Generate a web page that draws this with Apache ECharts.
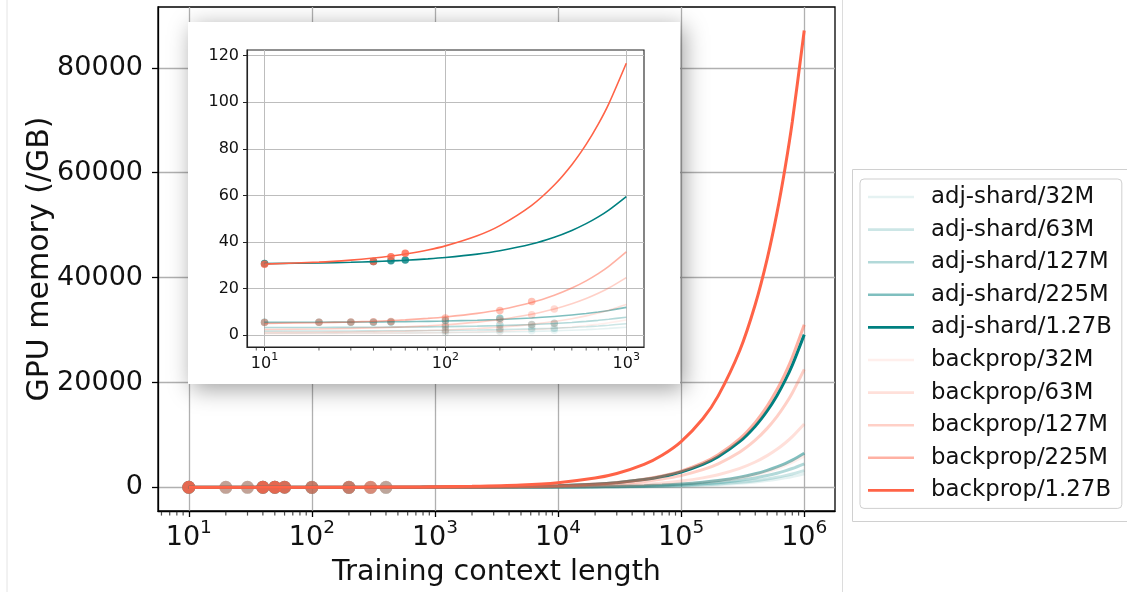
<!DOCTYPE html>
<html><head><meta charset="utf-8">
<script src="https://cdn.jsdelivr.net/npm/echarts@6/dist/echarts.min.js"></script>
<style>html,body{margin:0;padding:0;background:#fff}#c{width:1127px;height:592px}</style>
</head><body><div id="c"></div>
<script>
const FONT = 'DejaVu Sans';
const seriesNames = ['adj-shard/32M','adj-shard/63M','adj-shard/127M','adj-shard/225M','adj-shard/1.27B',
                     'backprop/32M','backprop/63M','backprop/127M','backprop/225M','backprop/1.27B'];
const seriesAlpha = [0.1,0.2,0.3,0.5,1, 0.1,0.2,0.3,0.5,1];
const contextLengths = [10,20,30,40,50,60,80,100,150,200,300,400,500,600,700,800,1000,2000,5000,10000,20000,30000,50000,70000,100000,150000,200000,300000,400000,500000,600000,700000,800000,1000000];

const adjShard32M  = [0.83,0.85,0.88,0.90,0.93,0.96,1.01,1.06,1.19,1.32,1.58,1.84,2.10,2.36,2.62,2.88,3.40,6.0,13.8,26.8,52.8,78.8,130.8,182.8,260.8,390.8,520.8,780.8,1040.8,1300.8,1560.8,1820.8,2080.8,2600.8];
const adjShard63M  = [1.73,1.76,1.80,1.83,1.86,1.89,1.96,2.02,2.18,2.34,2.66,2.98,3.30,3.62,3.94,4.26,4.90,8.1,17.7,33.7,65.7,97.7,162,226,322,482,642,962,1282,1602,1922,2242,2562,3202];
const adjShard127M = [3.25,3.29,3.34,3.38,3.43,3.47,3.56,3.65,3.88,4.10,4.55,5.00,5.45,5.90,6.35,6.80,7.70,12.2,25.7,48.2,93.2,138,228,318,453,678,903,1353,1803,2253,2703,3153,3603,4503];
const adjShard225M = [5.47,5.53,5.60,5.66,5.73,5.79,5.92,6.05,6.38,6.70,7.35,8.00,8.65,9.30,9.95,10.6,11.9,18.4,37.9,70.4,135,200,330,460,655,980,1305,1955,2605,3255,3905,4555,5205,6505];
const adjShard127B = [30.69,30.98,31.27,31.56,31.86,32.15,32.73,33.31,34.77,36.22,39.13,42.04,44.95,47.86,50.77,53.68,59.5,88.6,175.9,321.4,612,903,1485,2067,2940,4395,5850,8760,11670,14580,17490,20400,23310,29130];
const backprop32M  = [0.56,0.62,0.68,0.74,0.80,0.86,0.98,1.10,1.40,1.70,2.30,2.90,3.50,4.10,4.70,5.30,6.5,12.5,30.5,60.5,120.5,180.5,300.5,420.5,600.5,900.5,1200,1800,2400,3000,3600,4200,4800,6000];
const backprop63M  = [1.12,1.24,1.36,1.48,1.61,1.73,1.97,2.21,2.82,3.42,4.63,5.84,7.05,8.26,9.47,10.68,13.1,25.2,61.5,122,243,364,606,848,1211,1816,2421,3631,4841,6051,7261,8471,9681,12101];
const backprop127M = [2.43,2.65,2.88,3.10,3.33,3.55,4.00,4.45,5.58,6.70,8.95,11.2,13.45,15.7,17.95,20.2,24.7,47.2,114.7,227,452,677,1127,1577,2252,3377,4502,6752,9002,11252,13502,15752,18002,22502];
const backprop225M = [5.01,5.32,5.63,5.94,6.25,6.56,7.18,7.80,9.35,10.9,14.0,17.1,20.2,23.3,26.4,29.5,35.7,66.7,159.7,315,625,935,1555,2175,3105,4655,6205,9305,12405,15505,18605,21705,24805,31005];
const backprop127B = [30.47,31.34,32.21,33.08,33.96,34.83,36.57,38.31,42.67,47.02,55.73,64.44,73.15,81.86,90.57,99.28,116.7,203.8,465.1,900.6,1772,2643,4385,6127,8740,13095,17450,26160,34870,43580,52290,61000,69710,87130];

// measured points [context length, GB]
const adjShard32MPts  = [[100,1.1],[200,1.6],[300,1.9],[400,2.1]];
const adjShard63MPts  = [[100,2.0],[200,2.5],[300,2.9],[400,3.0]];
const adjShard127MPts = [[100,3.7],[200,4.3],[300,4.6],[400,5.1]];
const adjShard225MPts = [[10,5.5],[20,5.5],[30,5.5],[40,5.5],[50,5.6],[100,6.3],[200,7.2]];
const adjShard127BPts = [[10,30.7],[40,31.6],[50,31.9],[60,32.2]];
const backprop32MPts  = [[100,1.4],[200,1.8]];
const backprop63MPts  = [[100,2.3],[200,3.0],[300,4.4],[400,5.0]];
const backprop127MPts = [[100,4.4],[200,6.5],[300,8.7],[400,11.2]];
const backprop225MPts = [[10,5.4],[20,5.5],[30,5.6],[40,5.7],[50,5.8],[100,7.3],[200,10.6],[300,14.4]];
const backprop127BPts = [[10,30.4],[40,31.6],[50,33.6],[60,35.1]];

const mainYTicks = [0,20000,40000,60000,80000];
const insetYTicks = [0,20,40,60,80,100,120];
const mainXTicks = [10,100,1000,10000,100000,1000000];
const insetXTicks = [10,100,1000];

const curves = [adjShard32M,adjShard63M,adjShard127M,adjShard225M,adjShard127B,backprop32M,backprop63M,backprop127M,backprop225M,backprop127B];
const points = [adjShard32MPts,adjShard63MPts,adjShard127MPts,adjShard225MPts,adjShard127BPts,backprop32MPts,backprop63MPts,backprop127MPts,backprop225MPts,backprop127BPts];

function colorOf(i){ const a = seriesAlpha[i]; return i < 5 ? 'rgba(0,128,128,'+a+')' : 'rgba(255,99,71,'+a+')'; }

const MAIN_X = [Math.pow(10,0.75), Math.pow(10,6.25)];
const INSET_X = [8.0, 1253];
function minorList(lo, hi){ const out=[]; for(let e=0;e<=6;e++){ for(let k=2;k<=9;k++){ const v=k*Math.pow(10,e); if(v>lo && v<hi) out.push(v);} } return out; }

const series = [];
curves.forEach((c,i)=>{
  series.push({type:'line', name:seriesNames[i], xAxisIndex:0, yAxisIndex:0, z:4,
    data: contextLengths.map((x,j)=>[x,c[j]]), showSymbol:false, smooth:0.3,
    color: colorOf(i), lineStyle:{width:3, color: colorOf(i)}, silent:true});
});
curves.forEach((c,i)=>{
  const d = contextLengths.map((x,j)=>[x,c[j]]).filter(p=>p[0]<=1000);
  series.push({type:'line', name:seriesNames[i], xAxisIndex:1, yAxisIndex:1, z:14,
    data: d, showSymbol:false, smooth:0.3,
    color: colorOf(i), lineStyle:{width:1.6, color: colorOf(i)}, silent:true});
});
points.forEach((p,i)=>{
  series.push({type:'scatter', name:seriesNames[i], xAxisIndex:0, yAxisIndex:0, z:3, data:p,
    symbolSize:13, itemStyle:{color: colorOf(i)}, silent:true});
});
points.forEach((p,i)=>{
  series.push({type:'scatter', name:seriesNames[i], xAxisIndex:1, yAxisIndex:1, z:13, data:p,
    symbolSize:7.5, itemStyle:{color: colorOf(i)}, silent:true});
});
series.push({type:'scatter', name:'_minorMain', xAxisIndex:0, yAxisIndex:0, z:5, clip:false, silent:true,
  data: minorList(MAIN_X[0], MAIN_X[1]).map(v=>[v,-4500]), symbol:'rect', symbolSize:[1.2,4], symbolOffset:[0,2.6],
  itemStyle:{color:'#222'}});
series.push({type:'scatter', name:'_minorInset', xAxisIndex:1, yAxisIndex:1, z:15, clip:false, silent:true,
  data: minorList(INSET_X[0], INSET_X[1]).map(v=>[v,-5.1]), symbol:'rect', symbolSize:[0.9,3], symbolOffset:[0,2],
  itemStyle:{color:'#222'}});

function powLabel(v){ const e = Math.round(Math.log10(v)); return '{b|10}{s|' + e + '}'; }
function plainNum(v){ return String(v); }

const option = {
  animation:false,
  graphic:{elements:[
    {type:'line', z:0, shape:{x1:7,y1:0,x2:7,y2:592}, style:{stroke:'#e4e4e4', lineWidth:1}},
    {type:'line', z:0, shape:{x1:842.5,y1:0,x2:842.5,y2:592}, style:{stroke:'#dcdcdc', lineWidth:1}},
    {type:'polyline', z:0, shape:{points:[[1130,169.5],[852.5,169.5],[852.5,521.5],[1130,521.5]]}, style:{stroke:'#d0d0d0', fill:null, lineWidth:1}},
    {type:'rect', z:10, shape:{x:188,y:22,width:492,height:362},
      style:{fill:'#fff', shadowBlur:22, shadowOffsetX:4, shadowOffsetY:5, shadowColor:'rgba(0,0,0,0.38)'}}
  ]},
  legend:{
    data: seriesNames, orient:'vertical', left:860, top:179, icon:'rect', itemWidth:46, itemHeight:2.6,
    itemGap:8.6, padding:[6,10,6,8], borderColor:'#cfcfcf', borderWidth:1, borderRadius:4, backgroundColor:'#fff',
    selectedMode:false,
    textStyle:{fontFamily:FONT, fontSize:22.8, color:'#111', lineHeight:24, padding:[0,0,0,12]}
  },
  grid:[
    {left:158, top:7, width:677, height:506, show:true, borderColor:'#000', borderWidth:1.3, backgroundColor:'transparent', z:1},
    {left:247, top:50, width:397, height:297, show:true, borderColor:'#222', borderWidth:1.1, backgroundColor:'transparent', z:12}
  ],
  xAxis:[
    {type:'log', logBase:10, gridIndex:0, min:MAIN_X[0], max:MAIN_X[1], z:2,
      name:'Training context length', nameLocation:'middle', nameGap:47, nameMoveOverlap:false,
      nameTextStyle:{fontFamily:FONT, fontSize:28.5, color:'#111'},
      axisLine:{show:true, onZero:false, lineStyle:{color:'#000', width:1.3}},
      axisTick:{show:true, length:6, customValues:mainXTicks, lineStyle:{color:'#000', width:1.3}},
      axisLabel:{customValues:mainXTicks, margin:8, formatter:powLabel,
        rich:{b:{fontFamily:FONT, fontSize:27, color:'#111', lineHeight:38},
              s:{fontFamily:FONT, fontSize:18.5, color:'#111', lineHeight:16, verticalAlign:'top'}}},
      splitLine:{show:true, lineStyle:{color:'#b0b0b0', width:1.3}}},
    {type:'log', logBase:10, gridIndex:1, min:INSET_X[0], max:INSET_X[1], z:12,
      axisLine:{show:true, onZero:false, lineStyle:{color:'#222', width:1.1}},
      axisTick:{show:true, length:4, customValues:insetXTicks, lineStyle:{color:'#222'}},
      axisLabel:{customValues:insetXTicks, margin:5, formatter:powLabel,
        rich:{b:{fontFamily:FONT, fontSize:16, color:'#111', lineHeight:24},
              s:{fontFamily:FONT, fontSize:11, color:'#111', lineHeight:10, verticalAlign:'top'}}},
      splitLine:{show:true, lineStyle:{color:'#bdbdbd', width:1}}}
  ],
  yAxis:[
    {type:'value', gridIndex:0, min:-4500, max:91600, z:2,
      name:'GPU memory (/GB)', nameLocation:'middle', nameGap:103, nameRotate:90, nameMoveOverlap:false,
      nameTextStyle:{fontFamily:FONT, fontSize:30, color:'#111'},
      axisLine:{show:true, onZero:false, lineStyle:{color:'#000', width:1.3}},
      axisTick:{show:true, length:6, customValues:mainYTicks, lineStyle:{color:'#000', width:1.3}},
      axisLabel:{customValues:mainYTicks, margin:15, fontFamily:FONT, fontSize:27, color:'#111', formatter:plainNum},
      splitLine:{show:true, lineStyle:{color:'#b0b0b0', width:1.3}}},
    {type:'value', gridIndex:1, min:-5.1, max:122.4, z:12,
      axisLine:{show:true, onZero:false, lineStyle:{color:'#222', width:1.1}},
      axisTick:{show:true, length:4, customValues:insetYTicks, lineStyle:{color:'#222'}},
      axisLabel:{customValues:insetYTicks, margin:8, fontFamily:FONT, fontSize:16, color:'#111', formatter:plainNum},
      splitLine:{show:true, lineStyle:{color:'#bdbdbd', width:1}}}
  ],
  series: series
};
const chart = echarts.init(document.getElementById('c'), null, {renderer:'canvas'});
chart.setOption(option);
</script></body></html>
